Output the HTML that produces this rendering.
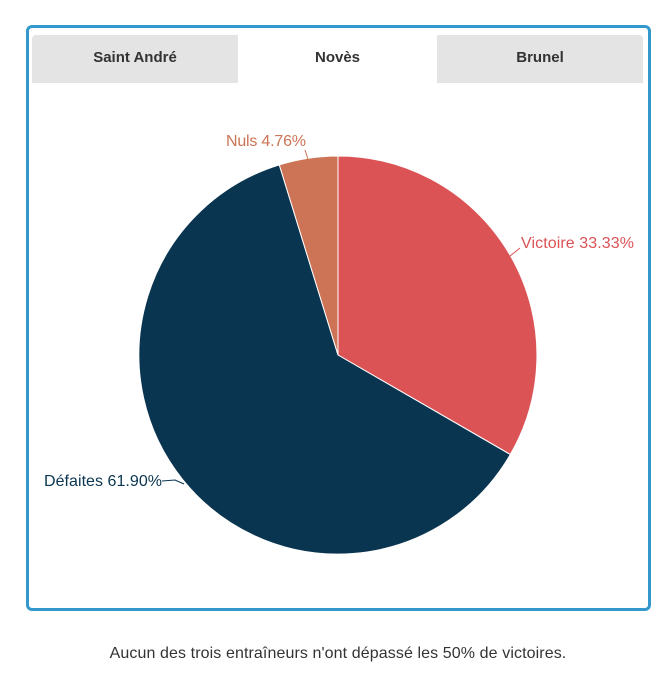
<!DOCTYPE html>
<html><head><meta charset="utf-8"><style>
html,body{margin:0;padding:0;background:#fff;width:668px;height:673px;overflow:hidden;font-family:"Liberation Sans",sans-serif}
.frame{position:absolute;left:26px;top:25px;width:619px;height:580px;border:3px solid #3399cc;border-radius:6px;box-sizing:content-box}
.tab{position:absolute;top:7px;height:48px;line-height:46px;text-align:center;font-size:15px;color:#333;font-weight:bold}
.t1{left:3px;width:206px;background:#e4e4e4;border-radius:4px 0 0 0}
.t2{left:210px;width:197px;top:10px;height:45px;line-height:40px;background:#fff;border-radius:4px 4px 0 0}
.t3{left:408px;width:206px;background:#e4e4e4;border-radius:0 4px 0 0}
.cap{position:absolute;top:645px;left:0;width:676px;text-align:center;font-size:16px;color:#333;letter-spacing:0.1px}
</style></head><body>
<div class="frame">
<div class="tab t1">Saint André</div>
<div class="tab t2">Novès</div>
<div class="tab t3">Brunel</div>
</div>
<svg width="668" height="673" style="position:absolute;left:0;top:0">
<g stroke="#fff" stroke-width="1">
<path d="M338,355 L338,156 A199,199 0 0 1 510.3,454.5 Z" fill="#dc5356"/>
<path d="M338,355 L510.3,454.5 A199,199 0 1 1 279.3,164.9 Z" fill="#0a3550"/>
<path d="M338,355 L279.3,164.9 A199,199 0 0 1 338,156 Z" fill="#cc7455"/>
</g>
<g fill="none" stroke-width="1">
<path d="M510,256 L520,248" stroke="#dc5356"/>
<path d="M162,481 L175,480 L184,484" stroke="#0a3550"/>
<path d="M305,150 L307,156 L308,160" stroke="#cc7455"/>
</g>
<g font-family="Liberation Sans, sans-serif" font-size="16">
<text x="521" y="248" fill="#dc5356" textLength="113">Victoire 33.33%</text>
<text x="44" y="486" fill="#0a3550" textLength="118">Défaites 61.90%</text>
<text x="226" y="146" fill="#cc7455" textLength="80">Nuls 4.76%</text>
</g>
</svg>
<div class="cap">Aucun des trois entraîneurs n'ont dépassé les 50% de victoires.</div>
</body></html>
